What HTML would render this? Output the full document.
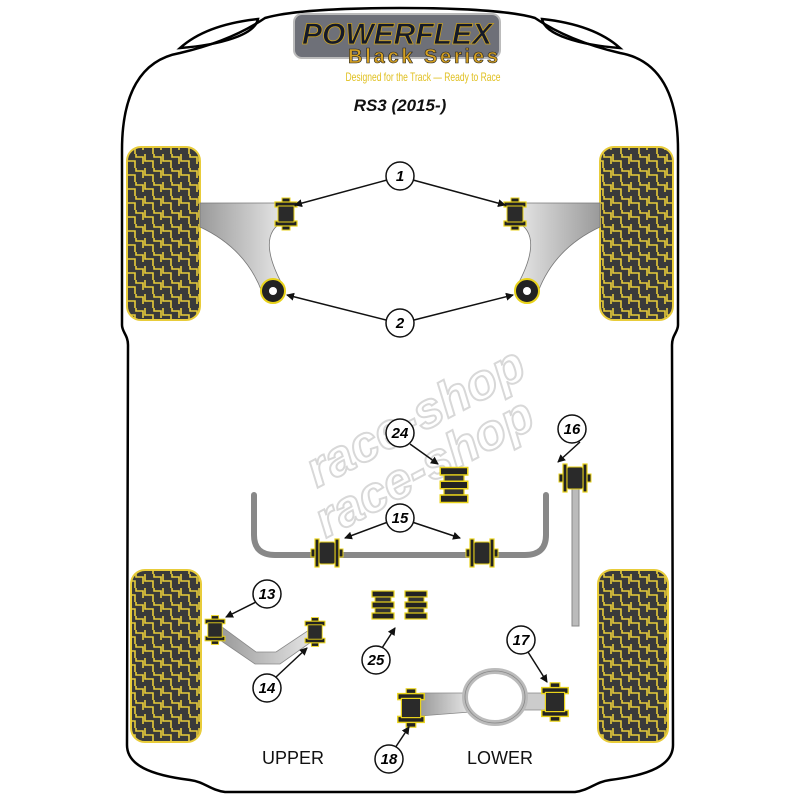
<!DOCTYPE html>
<html><head><style>html,body{margin:0;padding:0;background:#fff}svg{display:block}</style></head>
<body>
<svg width="800" height="800" viewBox="0 0 800 800" xmlns="http://www.w3.org/2000/svg">
<defs>
<pattern id="tread" width="18" height="14" patternUnits="userSpaceOnUse">
<rect width="18" height="14" fill="#3a3a3a"/>
<path d="M1,0 V7 H9 V14 M10,0 V3 H17 V10" stroke="#e8cc3a" stroke-width="1.6" fill="none"/>
</pattern>
<linearGradient id="arm" x1="0" x2="1"><stop offset="0" stop-color="#9a9a9a"/><stop offset="1" stop-color="#e6e6e6"/></linearGradient>
<linearGradient id="armr" x1="1" x2="0"><stop offset="0" stop-color="#9a9a9a"/><stop offset="1" stop-color="#e6e6e6"/></linearGradient>
<marker id="ah" markerWidth="8" markerHeight="8" refX="7" refY="4" orient="auto" markerUnits="userSpaceOnUse"><path d="M0,0 L8,4 L0,8 Z" fill="#111"/></marker>
<g id="bush">
<rect x="-4" y="-16" width="8" height="4" fill="#222" stroke="#e8d21a" stroke-width="1"/>
<rect x="-4" y="12" width="8" height="4" fill="#222" stroke="#e8d21a" stroke-width="1"/>
<rect x="-11" y="-12" width="22" height="5" fill="#222" stroke="#e8d21a" stroke-width="1.2"/>
<rect x="-11" y="7" width="22" height="5" fill="#222" stroke="#e8d21a" stroke-width="1.2"/>
<rect x="-8" y="-8" width="16" height="16" fill="#2a2a2a" stroke="#e8d21a" stroke-width="1"/>
</g>
<g id="bushh">
<rect x="-16" y="-4" width="4" height="8" fill="#222" stroke="#e8d21a"/>
<rect x="12" y="-4" width="4" height="8" fill="#222" stroke="#e8d21a"/>
<rect x="-12" y="-14" width="4" height="28" fill="#222" stroke="#e8d21a" stroke-width="1.2"/>
<rect x="8" y="-14" width="4" height="28" fill="#222" stroke="#e8d21a" stroke-width="1.2"/>
<rect x="-8" y="-11" width="16" height="22" rx="2" fill="#2a2a2a" stroke="#e8d21a"/>
</g>
<g id="pad">
<rect x="-11" y="-14" width="22" height="6" fill="#222" stroke="#e8d21a" stroke-width="1.2"/>
<rect x="-8" y="-8" width="16" height="5" fill="#333" stroke="#e8d21a"/>
<rect x="-11" y="-3" width="22" height="6" fill="#222" stroke="#e8d21a" stroke-width="1.2"/>
<rect x="-8" y="3" width="16" height="5" fill="#333" stroke="#e8d21a"/>
<rect x="-11" y="8" width="22" height="6" fill="#222" stroke="#e8d21a" stroke-width="1.2"/>
</g>
</defs>

<g fill="none" stroke="#000" stroke-width="2.5">
<path d="M122,150 C122,95 140,60 180,53 C210,46 240,35 265,18 C285,12 330,8 400,8 C470,8 515,12 535,18 C560,35 590,46 620,53 C660,60 678,95 678,150 L678,325 C678,332 672,335 672,345 L673,745 C673,765 650,775 610,780 C595,782 590,790 575,792 L225,792 C210,790 205,782 190,780 C150,775 127,765 127,745 L128,345 C128,335 122,332 122,325 Z"/>
<path d="M180,48 C200,30 230,22 258,19 C255,35 220,45 180,48 Z"/>
<path d="M620,48 C600,30 570,22 542,19 C545,35 580,45 620,48 Z"/>
</g>

<g stroke="#e8cc3a" stroke-width="2" fill="url(#tread)">
<rect x="127" y="147" width="73" height="173" rx="14"/>
<rect x="600" y="147" width="73" height="173" rx="14"/>
<rect x="131" y="570" width="70" height="172" rx="14"/>
<rect x="598" y="570" width="70" height="172" rx="14"/>
</g>

<g font-family="Liberation Sans, sans-serif" font-weight="bold" font-style="italic" font-size="50" fill="#fff" stroke="#d8d8d8" stroke-width="2">
<text x="290" y="440" transform="rotate(-28 400 410)" textLength="240">race-shop</text>
<text x="300" y="495" transform="rotate(-28 400 465)" textLength="240">race-shop</text>
</g>

<path d="M200,203 L283,203 L283,222 C262,232 268,258 282,284 L262,292 C250,260 228,240 200,227 Z" fill="url(#arm)" stroke="#777" stroke-width="0.8"/>
<path d="M600,203 L517,203 L517,222 C538,232 532,258 518,284 L538,292 C550,260 572,240 600,227 Z" fill="url(#armr)" stroke="#777" stroke-width="0.8"/>
<use href="#bush" x="286" y="214"/>
<use href="#bush" x="515" y="214"/>
<circle cx="273" cy="291" r="12" fill="#222" stroke="#e8d21a" stroke-width="2"/><circle cx="273" cy="291" r="4" fill="#fff"/>
<circle cx="527" cy="291" r="12" fill="#222" stroke="#e8d21a" stroke-width="2"/><circle cx="527" cy="291" r="4" fill="#fff"/>

<path d="M254,495 L254,535 Q254,555 275,555 L525,555 Q546,555 546,535 L546,495" fill="none" stroke="#888" stroke-width="6" stroke-linecap="round"/>
<use href="#bushh" x="327" y="553"/>
<use href="#bushh" x="482" y="553"/>
<use href="#pad" x="454" y="485" transform="translate(454 485) scale(1.25) translate(-454 -485)"/>

<rect x="572" y="488" width="7" height="138" fill="#bbb" stroke="#888"/>
<use href="#bushh" x="575" y="478"/>

<use href="#pad" x="383" y="605"/>
<use href="#pad" x="416" y="605"/>

<path d="M222,627 L256,652 L276,652 L312,628 L314,640 L280,664 L255,664 L220,640 Z" fill="url(#arm)" stroke="#888" stroke-width="0.8"/>
<use href="#bush" x="215" y="630" transform="translate(215 630) scale(0.9) translate(-215 -630)"/>
<use href="#bush" x="315" y="632" transform="translate(315 632) scale(0.9) translate(-315 -632)"/>

<path d="M420,693 L470,693 L470,712 L420,716 Z" fill="url(#arm)" stroke="#888" stroke-width="0.8"/>
<path d="M518,693 L550,693 L550,710 L518,710 Z" fill="#ccc" stroke="#888" stroke-width="0.8"/>
<ellipse cx="495" cy="697" rx="30" ry="26" fill="#fff" stroke="#bbb" stroke-width="6"/>
<ellipse cx="495" cy="697" rx="30" ry="26" fill="none" stroke="#888" stroke-width="0.8"/>
<use href="#bush" x="411" y="708" transform="translate(411 708) scale(1.2) translate(-411 -708)"/>
<use href="#bush" x="555" y="702" transform="translate(555 702) scale(1.2) translate(-555 -702)"/>

<g stroke="#111" stroke-width="1.5" marker-end="url(#ah)">
<line x1="387" y1="180" x2="295" y2="205"/>
<line x1="413" y1="180" x2="505" y2="205"/>
<line x1="386" y1="320" x2="287" y2="295"/>
<line x1="414" y1="320" x2="513" y2="295"/>
<line x1="410" y1="444" x2="438" y2="464"/>
<line x1="580" y1="442" x2="558" y2="462"/>
<line x1="388" y1="522" x2="345" y2="538"/>
<line x1="412" y1="522" x2="460" y2="538"/>
<line x1="256" y1="602" x2="226" y2="617"/>
<line x1="276" y1="677" x2="307" y2="648"/>
<line x1="382" y1="648" x2="395" y2="628"/>
<line x1="528" y1="652" x2="547" y2="682"/>
<line x1="395" y1="748" x2="409" y2="727"/>
</g>

<g font-family="Liberation Sans, sans-serif" font-weight="bold" font-style="italic" font-size="15" text-anchor="middle">
<g fill="#fff" stroke="#111" stroke-width="1.5">
<circle cx="400" cy="176" r="14"/><circle cx="400" cy="323" r="14"/><circle cx="400" cy="433" r="14"/>
<circle cx="572" cy="429" r="14"/><circle cx="400" cy="518" r="14"/><circle cx="267" cy="594" r="14"/>
<circle cx="267" cy="688" r="14"/><circle cx="376" cy="660" r="14"/><circle cx="521" cy="640" r="14"/>
<circle cx="389" cy="759" r="14"/>
</g>
<text x="400" y="181">1</text><text x="400" y="328">2</text><text x="400" y="438">24</text>
<text x="572" y="434">16</text><text x="400" y="523">15</text><text x="267" y="599">13</text>
<text x="267" y="693">14</text><text x="376" y="665">25</text><text x="521" y="645">17</text>
<text x="389" y="764">18</text>
</g>

<g font-family="Liberation Sans, sans-serif" font-size="18" fill="#111" text-anchor="middle">
<text x="293" y="764">UPPER</text><text x="500" y="764">LOWER</text>
</g>

<rect x="294" y="14" width="206" height="44" rx="8" fill="#6e7078" stroke="#bbb" stroke-width="2"/>
<text x="397" y="44" font-family="Liberation Sans, sans-serif" font-weight="bold" font-style="italic" font-size="30" text-anchor="middle" fill="#141a2a" stroke="#c9a020" stroke-width="0.8" textLength="190">POWERFLEX</text>
<text x="423" y="63" font-family="Liberation Sans, sans-serif" font-weight="bold" font-size="20" text-anchor="middle" fill="#d4a022" stroke="#222" stroke-width="0.6" textLength="150">Black Series</text>
<text x="423" y="81" font-family="Liberation Sans, sans-serif" font-size="12" text-anchor="middle" fill="#e0c020" textLength="155" lengthAdjust="spacingAndGlyphs">Designed for the Track — Ready to Race</text>
<text x="400" y="111" font-family="Liberation Sans, sans-serif" font-weight="bold" font-style="italic" font-size="17" text-anchor="middle" fill="#111">RS3 (2015-)</text>
</svg>
</body></html>
